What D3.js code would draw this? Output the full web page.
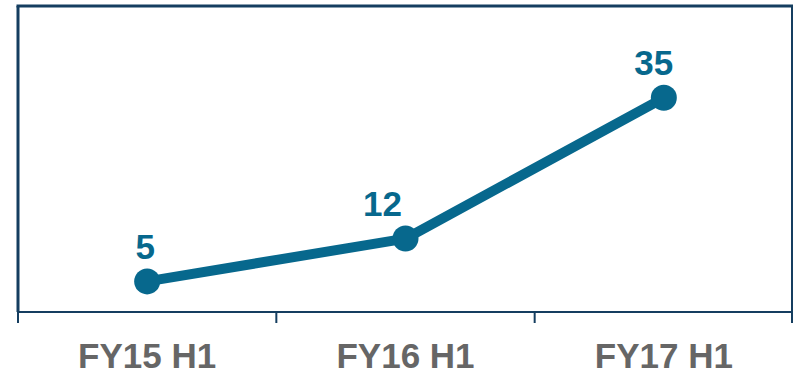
<!DOCTYPE html>
<html>
<head>
<meta charset="utf-8">
<script src="https://cdn.jsdelivr.net/npm/d3@7"></script>
<style>
  html, body { margin: 0; padding: 0; background: #fff; }
  svg { display: block; }
</style>
</head>
<body>
<svg id="chart" width="795" height="376"></svg>
<script>
// Half-year periods and the values plotted for each
const categories = ["FY15 H1", "FY16 H1", "FY17 H1"];
const values = [5, 12, 35];
const yDomain = [0, 50];

const svg = d3.select("#chart");
const plot = { left: 18, right: 793, top: 6, bottom: 312 };

const x = d3.scaleBand()
  .domain(categories)
  .range([plot.left, plot.right])
  .padding(0);

const y = d3.scaleLinear()
  .domain(yDomain)
  .range([plot.bottom, plot.top]);

const lineColor = "#07688d";
const frameColor = "#153e60";
const font = "Liberation Sans, Arial, sans-serif";

// Plot frame: heavier top and left edges, lighter right edge
svg.append("line")
  .attr("x1", plot.left - 1.5).attr("x2", plot.right)
  .attr("y1", plot.top).attr("y2", plot.top)
  .attr("stroke", frameColor).attr("stroke-width", 3);
svg.append("line")
  .attr("x1", plot.left).attr("x2", plot.left)
  .attr("y1", plot.top).attr("y2", plot.bottom)
  .attr("stroke", frameColor).attr("stroke-width", 3);
svg.append("line")
  .attr("x1", plot.right - 1).attr("x2", plot.right - 1)
  .attr("y1", plot.top).attr("y2", plot.bottom)
  .attr("stroke", frameColor).attr("stroke-width", 2);

// Category axis along the bottom, ticks at band boundaries
const boundaries = categories.map(c => x(c)).concat([plot.right]);
const axis = svg.append("g").attr("class", "x-axis");
axis.append("line")
  .attr("x1", plot.left).attr("x2", plot.right)
  .attr("y1", plot.bottom).attr("y2", plot.bottom)
  .attr("stroke", frameColor).attr("stroke-width", 2);
axis.selectAll("line.tick")
  .data(boundaries)
  .join("line")
  .attr("class", "tick")
  .attr("x1", (d, i) => i === boundaries.length - 1 ? d - 1 : d)
  .attr("x2", (d, i) => i === boundaries.length - 1 ? d - 1 : d)
  .attr("y1", plot.bottom).attr("y2", plot.bottom + 11)
  .attr("stroke", frameColor).attr("stroke-width", 2);
axis.selectAll("text")
  .data(categories)
  .join("text")
  .attr("x", d => x(d) + x.bandwidth() / 2)
  .attr("y", 368)
  .attr("text-anchor", "middle")
  .attr("font-family", font)
  .attr("font-weight", "bold")
  .attr("font-size", 35)
  .attr("fill", "#666666")
  .text(d => d);

// Data series
const pts = categories.map((c, i) => ({ cat: c, value: values[i], i }));
const cx = d => x(d.cat) + x.bandwidth() / 2;

svg.append("path")
  .datum(pts)
  .attr("fill", "none")
  .attr("stroke", lineColor)
  .attr("stroke-width", 10)
  .attr("stroke-linejoin", "round")
  .attr("d", d3.line().x(cx).y(d => y(d.value)));

svg.selectAll("circle.marker")
  .data(pts)
  .join("circle")
  .attr("class", "marker")
  .attr("cx", cx)
  .attr("cy", d => y(d.value))
  .attr("r", 13)
  .attr("fill", lineColor);

// Value labels sit above each marker, nudged left to clear the rising line
const labelNudge = [-2, -23, -10];
svg.selectAll("text.value")
  .data(pts)
  .join("text")
  .attr("class", "value")
  .attr("x", d => cx(d) + labelNudge[d.i])
  .attr("y", d => y(d.value) - 22.5)
  .attr("text-anchor", "middle")
  .attr("font-family", font)
  .attr("font-weight", "bold")
  .attr("font-size", 35)
  .attr("fill", lineColor)
  .text(d => d.value);
</script>
</body>
</html>
